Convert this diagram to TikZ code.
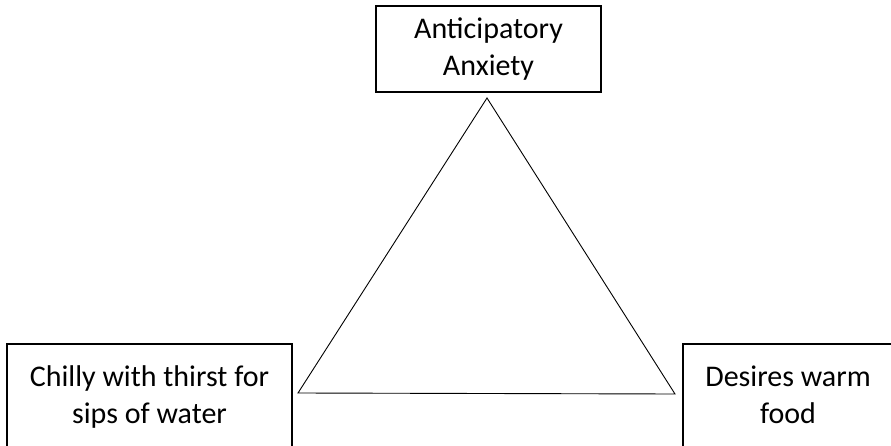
\documentclass[tikz,border=0pt]{standalone}
\usepackage{fontspec}
\setmainfont{Carlito}
\begin{document}
\begin{tikzpicture}[x=1pt,y=1pt,
  box/.style={draw=black, line width=1.6pt, inner sep=0pt, align=center,
              font=\fontsize{30}{37}\selectfont},
  tri/.style={draw=black, line width=0.9pt, line join=miter}]
\useasboundingbox (0,0) rectangle (891,445);
\clip (0,0) rectangle (891,445);
\node[box, minimum width=225, minimum height=86] (top) at (488.5,396) {Anticipatory\\Anxiety};
\node[box, minimum width=285, minimum height=105] (chilly) at (149.5,48.5) {Chilly with thirst for\\sips of water};
\node[box, minimum width=210, minimum height=105] (warm) at (788,48.5) {Desires warm\vphantom{lh}\\food\vphantom{p}};
\coordinate (apex) at (487,347);
\coordinate (bl) at (298,52);
\coordinate (br) at (675,51);
\draw[tri] (apex) -- (bl) -- (br) -- cycle;
\end{tikzpicture}
\end{document}
